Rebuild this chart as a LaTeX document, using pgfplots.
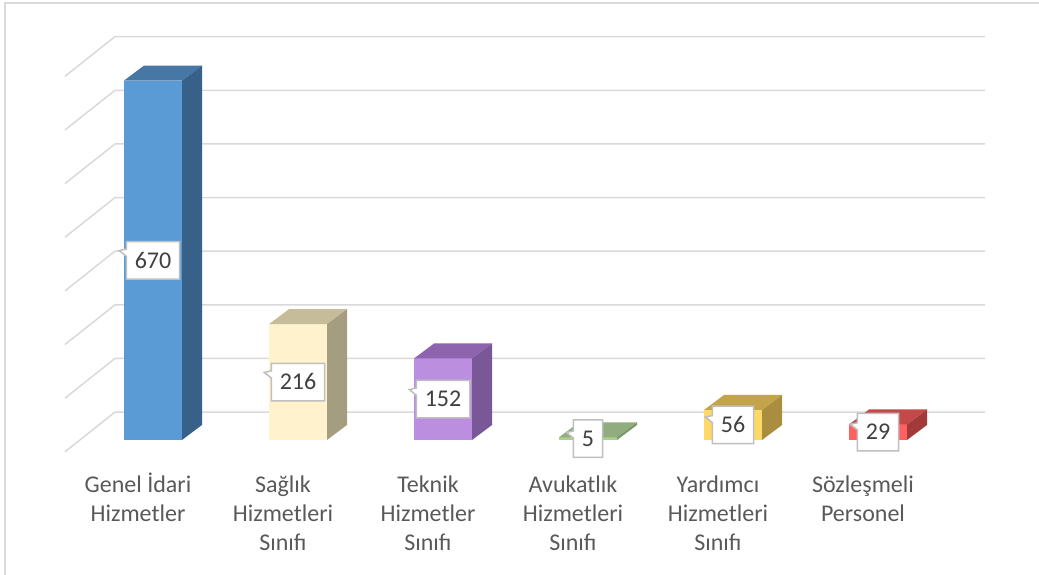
\documentclass[border=0pt]{standalone}
\usepackage{pgfplots}
\pgfplotsset{compat=1.18}
\usepackage{fontspec}
\setmainfont{Carlito}
\usetikzlibrary{shapes.callouts}

\definecolor{gridc}{HTML}{D9D9D9}
\definecolor{labc}{HTML}{595959}
\definecolor{numc}{HTML}{404040}
\definecolor{boxc}{HTML}{BFBFBF}
% front / side / top
\definecolor{bluF}{HTML}{5B9BD5}\definecolor{bluS}{HTML}{386189}\definecolor{bluT}{HTML}{4677A5}
\definecolor{yelF}{HTML}{FFF2CC}\definecolor{yelS}{HTML}{A59D80}\definecolor{yelT}{HTML}{C6BC9A}
\definecolor{purF}{HTML}{BC8EE0}\definecolor{purS}{HTML}{7A5897}\definecolor{purT}{HTML}{8E64AE}
\definecolor{greF}{HTML}{A9D18E}\definecolor{greS}{HTML}{7A9767}\definecolor{greT}{HTML}{91AD80}
\definecolor{golF}{HTML}{FFD966}\definecolor{golS}{HTML}{A88E3E}\definecolor{golT}{HTML}{C4A448}
\definecolor{redF}{HTML}{FF6161}\definecolor{redS}{HTML}{A33A3A}\definecolor{redT}{HTML}{C44A4A}

\newcommand\defcube[3]{%
 \pgfdeclareplotmark{cube#1}{%
   \pgfmathsetlengthmacro\cubeh{0.5364pt*\rawy}%
   \pgfpathmoveto{\pgfqpoint{-29pt}{0pt}}%
   \pgfpathlineto{\pgfqpoint{29pt}{0pt}}%
   \pgfpathlineto{\pgfqpoint{49pt}{15pt}}%
   \pgfpathlineto{\pgfqpoint{-9pt}{15pt}}%
   \pgfpathclose
   \pgfsetfillcolor{#3}\pgfusepath{fill}%
   \pgfpathmoveto{\pgfqpoint{29pt}{0pt}}%
   \pgfpathlineto{\pgfqpoint{49pt}{15pt}}%
   \pgfpathlineto{\pgfpoint{49pt}{15pt-\cubeh}}%
   \pgfpathlineto{\pgfpoint{29pt}{-\cubeh}}%
   \pgfpathclose
   \pgfsetfillcolor{#2}\pgfusepath{fill}%
 }}
\defcube{blu}{bluS}{bluT}
\defcube{yel}{yelS}{yelT}
\defcube{pur}{purS}{purT}
\defcube{gre}{greS}{greT}
\defcube{gol}{golS}{golT}
\defcube{red}{redS}{redT}

\pgfplotsset{
  cubebar/.style 2 args={ybar, bar width=0.4, bar shift=0pt, fill=#1, draw=none,
     mark=cube#2, mark options={solid}},
}

\begin{document}
\begin{tikzpicture}
\draw[gridc, line width=1.5pt] (5pt,0pt) -- (5pt,572pt) -- (1039pt,572pt);
\begin{axis}[
  at={(153pt,135pt)}, anchor=origin,
  x=145pt, y=0.5364pt,
  xmin=-1, xmax=6, ymin=-60, ymax=760,
  clip=false,
  axis line style={draw=none},
  major tick length=0pt,
  ytick=\empty,
  xtick={0,1,2,3,4,5},
  xticklabels={{\strut Genel İdari\\Hizmetler},{\strut Sağlık\\Hizmetleri\\Sınıfı},{\strut Teknik\\Hizmetler\\Sınıfı},{\strut Avukatlık\\Hizmetleri\\Sınıfı},{\strut Yardımcı\\Hizmetleri\\Sınıfı},{\strut Sözleşmeli\\Personel}},
  xticklabel style={align=center, text=labc, font=\fontsize{24pt}{29pt}\selectfont, xshift=-15pt, anchor=north, inner sep=0pt, yshift=0pt},
  /pgf/number format/assume math mode=true,
  visualization depends on={rawy \as \rawy},
  nodes near coords,
  nodes near coords style={rectangle callout, callout relative pointer={(-7pt,2pt)}, fill=white, draw=boxc, line width=1.5pt,
     text=numc, font=\fontsize{24pt}{28pt}\selectfont, inner xsep=8.5pt, inner ysep=11pt, text height=15.5pt, text depth=0pt,
     anchor=center, yshift={-0.2682pt*\rawy}},
]
% gridlines (floor diagonals and back wall)
\draw[gridc, line width=1.5pt] (axis cs:-0.607,-22) -- (axis cs:-0.262,52) -- (axis cs:5.738,52);
\draw[gridc, line width=1.5pt] (axis cs:-0.607,78) -- (axis cs:-0.262,152) -- (axis cs:5.738,152);
\draw[gridc, line width=1.5pt] (axis cs:-0.607,178) -- (axis cs:-0.262,252) -- (axis cs:5.738,252);
\draw[gridc, line width=1.5pt] (axis cs:-0.607,278) -- (axis cs:-0.262,352) -- (axis cs:5.738,352);
\draw[gridc, line width=1.5pt] (axis cs:-0.607,378) -- (axis cs:-0.262,452) -- (axis cs:5.738,452);
\draw[gridc, line width=1.5pt] (axis cs:-0.607,478) -- (axis cs:-0.262,552) -- (axis cs:5.738,552);
\draw[gridc, line width=1.5pt] (axis cs:-0.607,578) -- (axis cs:-0.262,652) -- (axis cs:5.738,652);
\draw[gridc, line width=1.5pt] (axis cs:-0.607,678) -- (axis cs:-0.262,752) -- (axis cs:5.738,752);

\addplot[cubebar={bluF}{blu}] coordinates {(0,670)};
\addplot[cubebar={yelF}{yel}] coordinates {(1,216)};
\addplot[cubebar={purF}{pur}] coordinates {(2,152)};
\addplot[cubebar={greF}{gre}] coordinates {(3,5)};
\addplot[cubebar={golF}{gol}] coordinates {(4,56)};
\addplot[cubebar={redF}{red}] coordinates {(5,29)};
\end{axis}
\pgfresetboundingbox
\path[use as bounding box] (0pt,0pt) rectangle (1039pt,575pt);
\end{tikzpicture}
\end{document}
